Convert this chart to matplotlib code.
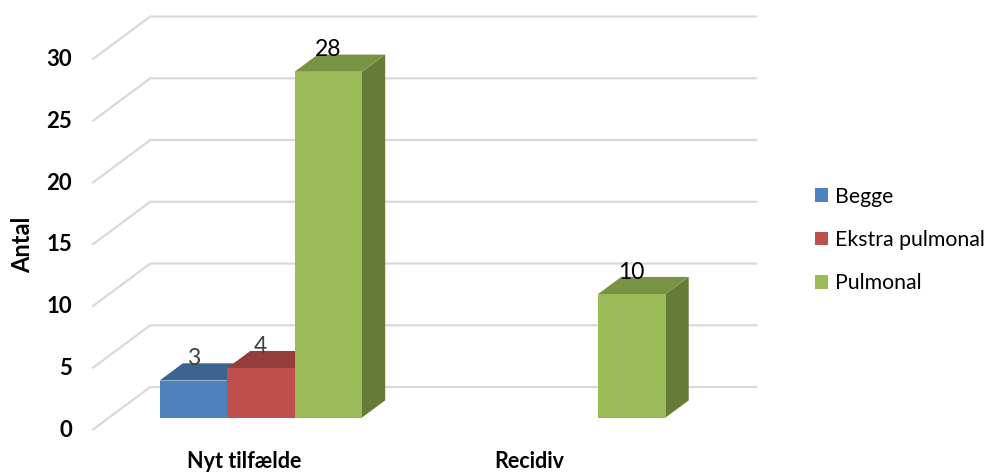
import numpy as np
import matplotlib
matplotlib.use("Agg")
import matplotlib.pyplot as plt
from matplotlib.patches import Polygon, Patch

# ---- data ----
categories = ["Nyt tilfælde", "Recidiv"]
series_names = ["Begge", "Ekstra pulmonal", "Pulmonal"]
begge = [3, np.nan]
ekstra_pulmonal = [4, np.nan]
pulmonal = [28, 10]
y_ticks = [0, 5, 10, 15, 20, 25, 30]
y_title = "Antal"

series_values = [begge, ekstra_pulmonal, pulmonal]
front_colors = ["#4F81BD", "#C0504D", "#9BBB59"]
top_colors = ["#3C6491", "#943D3A", "#789343"]
side_colors = ["#385D8A", "#8C3836", "#677B38"]

plt.rcParams['font.family'] = ['Lato', 'DejaVu Sans']

fig = plt.figure(figsize=(9.94, 4.73), dpi=100)
ax = fig.add_axes([0, 0, 1, 1])
ax.set_xlim(-0.804, 2.471)
ax.set_ylim(-3.48, 34.82)
ax.axis('off')

# oblique depth of the floor in data units
DX, DY = 0.191, 3.48
n_cat = len(categories)
x_left, x_right = -0.5, n_cat - 0.5

def P(x, y, d):
    return (x + DX * d, y + DY * d)

# gridlines: diagonal side wall + back wall
for t in y_ticks:
    xs = [x_left, x_left + DX, x_right + DX]
    ys = [t, t + DY, t + DY]
    ax.plot(xs, ys, color="#D9D9D9", lw=1.6, zorder=1, solid_capstyle='butt')
    ax.text(x_left - 0.066, t, str(t), ha='right', va='center',
            fontsize=16, fontweight='bold', color='#000000')

# bars
n_ser = len(series_values)
w = 1.0 / (n_ser + 1.5)
d0, d1 = 0.29, 0.69
z = 3
for j in range(n_cat):
    for i, vals in enumerate(series_values):
        v = vals[j]
        if v is None or np.isnan(v):
            continue
        xl = j - n_ser * w / 2 + i * w
        xr = xl + w
        side = [P(xr, 0, d0), P(xr, 0, d1), P(xr, v, d1), P(xr, v, d0)]
        top = [P(xl, v, d0), P(xr, v, d0), P(xr, v, d1), P(xl, v, d1)]
        front = [P(xl, 0, d0), P(xr, 0, d0), P(xr, v, d0), P(xl, v, d0)]
        ax.add_patch(Polygon(side, closed=True, fc=side_colors[i], ec='none', zorder=z))
        ax.add_patch(Polygon(top, closed=True, fc=top_colors[i], ec='none', zorder=z))
        ax.add_patch(Polygon(front, closed=True, fc=front_colors[i], ec='none', zorder=z))
        z += 1
        lx, _ = P((xl + xr) / 2, v, d0)
        ly = v + DY * d1
        ax.text(lx, ly - 0.15, f"{v:g}", ha='center', va='baseline', fontsize=16.5,
                color='#404040' if v < 10 else '#000000', zorder=50)

# category labels
cat_offsets = [0.0, -0.06]
for j, c in enumerate(categories):
    ax.text(j + cat_offsets[j], -2.55, c, ha='center', va='center',
            fontsize=15.5, fontweight='bold')

# axis title
ax.text(-0.728, 15, y_title, rotation=90, ha='center', va='center',
        fontsize=17, fontweight='bold')

handles = [Patch(facecolor=front_colors[i], edgecolor='none', label=series_names[i])
           for i in range(n_ser)]
ax.legend(handles=handles, loc='center left', bbox_to_anchor=(815 / 994, 1 - 240 / 473),
          frameon=False, fontsize=15.3, handlelength=0.6, handleheight=0.6,
          handletextpad=0.35, labelspacing=1.1, borderpad=0, borderaxespad=0)

fig.savefig("out.png", dpi=100)
